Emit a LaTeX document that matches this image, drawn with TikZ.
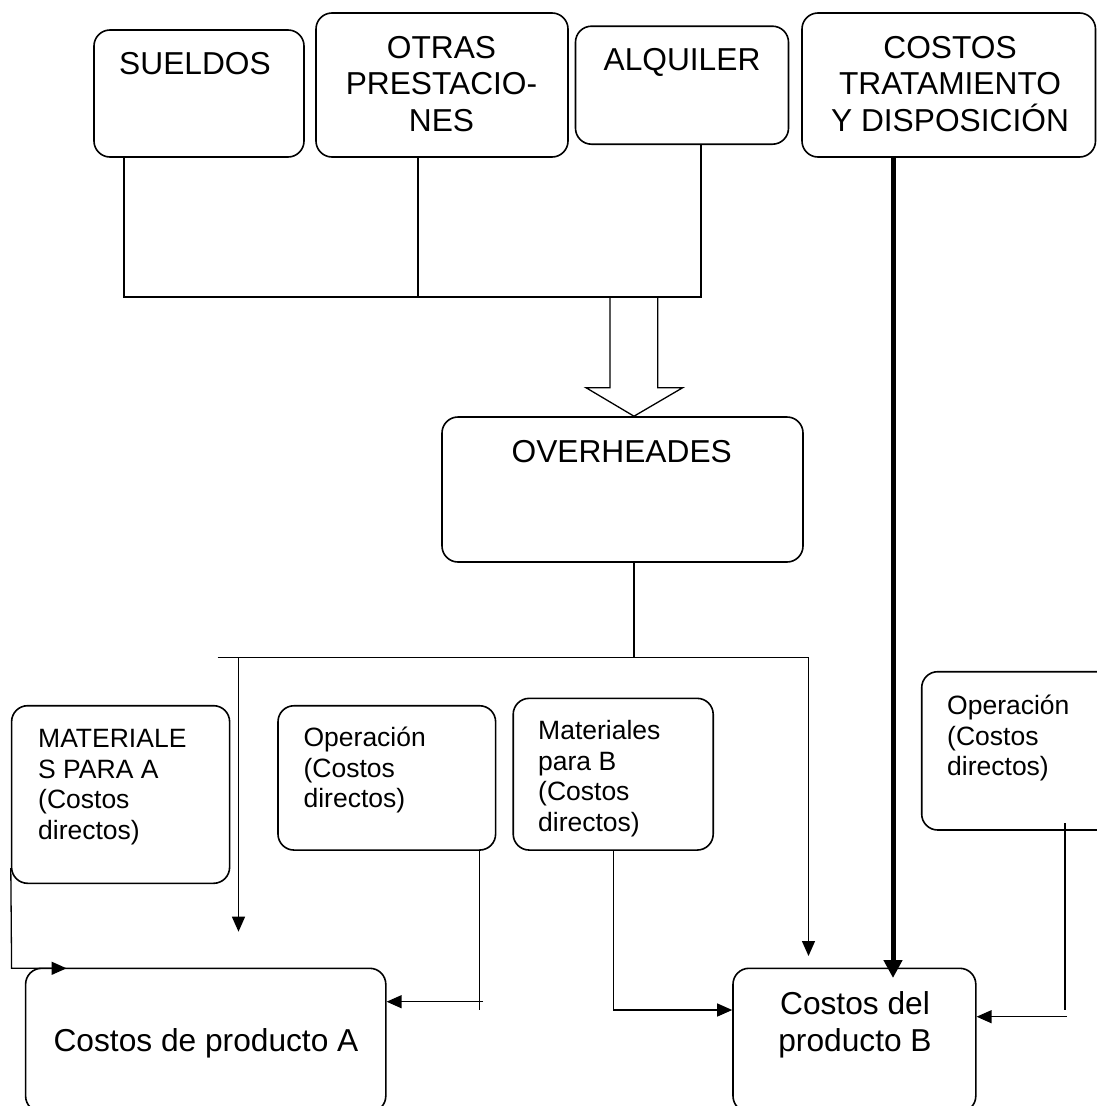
\documentclass[tikz,border=0pt]{standalone}
\usepackage{fontspec}
\setmainfont{Liberation Sans}
\usetikzlibrary{arrows.meta}
\begin{document}
\begin{tikzpicture}[x=1pt,y=-1pt,
 box/.style={draw, line width=1.6pt, rounded corners=16pt, inner sep=0pt},
 big/.style={font=\fontsize{31.7pt}{36.5pt}\selectfont, inner sep=0pt, align=center, anchor=north},
 small/.style={font=\fontsize{26.5pt}{30.5pt}\selectfont, inner sep=0pt, align=left, anchor=north west},
 conn/.style={line width=1.3pt},
 arr/.style={conn, -{Triangle[length=15pt,width=13pt]}},
]
\useasboundingbox (0,0) rectangle (1097,1106);
\clip (0,0) rectangle (1097,1106);

% boxes
\node[box, minimum width=210pt, minimum height=127pt] (sueldos) at (199,93.5) {};
\node[box, minimum width=252pt, minimum height=144pt] (otras) at (442,85) {};
\node[box, minimum width=213pt, minimum height=118pt] (alquiler) at (682,85.2) {};
\node[box, minimum width=293.5pt, minimum height=144pt] (costos) at (948.75,85) {};
\node[box, minimum width=361pt, minimum height=145pt] (overheades) at (622.5,489.5) {};
\node[box, minimum width=218pt, minimum height=177.6pt] (matA) at (120.6,794.5) {};
\node[box, minimum width=217.6pt, minimum height=144.3pt] (opA) at (386.8,777.9) {};
\node[box, minimum width=200pt, minimum height=151.7pt] (matB) at (613.2,774.2) {};
\node[box, minimum width=218.3pt, minimum height=158.3pt] (opB) at (1030.85,750.85) {};
\node[box, minimum width=360.2pt, minimum height=143.7pt] (costosA) at (205.7,1040.15) {};
\node[box, minimum width=242.8pt, minimum height=143.7pt] (costosB) at (854.4,1040.15) {};

% texts
\node[big] (sueldosT) at (195,48.5) {\strut SUELDOS};
\node[big] (otrasT) at (441.5,32.5) {\strut OTRAS\\PRESTACIO-\\NES};
\node[big] (alquilerT) at (682,45) {\strut ALQUILER};
\node[big] (costosT) at (950,32.5) {\strut COSTOS\\TRATAMIENTO\\Y DISPOSICIÓN};
\node[big] (overT) at (621.7,436.6) {\strut OVERHEADES};
\node[big] (costosAT) at (206,1026) {\strut Costos de producto A};
\node[big] (costosBT) at (855,989) {\strut Costos del\\producto B};
\node[small] (matAT) at (38,726) {\strut MATERIALE\\S PARA A\\(Costos\\directos)};
\node[small] (opAT) at (303.4,725) {\strut Operación\\(Costos\\directos)};
\node[small] (matBT) at (538,718) {\strut Materiales\\para B\\(Costos\\directos)};
\node[small] (opBT) at (947,693) {\strut Operación\\(Costos\\directos)};

% top collector
\coordinate (jA) at (124,297);
\coordinate (jB) at (418,297);
\coordinate (jC) at (701,297);
\draw[conn] (sueldos.south -| jA) -- (jA) -- (jC) -- (alquiler.south -| jC);
\draw[conn] (otras.south -| jB) -- (jB);

% hollow block arrow
\coordinate (ox) at (634,0);
\coordinate (bl) at (610,297);
\coordinate (br) at (657.7,297);
\draw[conn, line join=miter] (bl) -- (610,387.7) -- (586,387.7) -- (overheades.north -| ox)
  -- (682.7,387.7) -- (657.7,387.7) -- (br);

% overheads distribution
\coordinate (hL) at (217.7,657.7);
\coordinate (hA) at (238.5,657.7);
\coordinate (hR) at (808.5,657.7);
\draw[conn] (overheades.south -| ox) -- (ox |- hL);
\draw[conn] (hL) -- (hR);
\coordinate (endA) at (238.5,931.7);
\draw[arr] (hA) -- (endA);
\coordinate (endB) at (808.5,956);
\draw[arr] (hR) -- (endB);

% thick arrow from treatment costs
\coordinate (tk) at (893,978);
\draw[line width=5pt, -{Triangle[length=18pt,width=18pt]}] (costos.south -| tk) -- (tk);

% materials A
\coordinate (mA1) at (11.6,968.3);
\coordinate (mA2) at (66.6,968.3);
\draw[arr] ([yshift=16pt]matA.south west) -- (mA1) -- (mA2);

% operation A
\coordinate (oA1) at (479.5,1010);
\draw[conn] (opA.south -| oA1) -- (oA1);
\coordinate (oA2) at (483,1001.7);
\draw[arr] (oA2) -- (costosA.east |- oA2);

% materials B
\coordinate (mB) at (613.2,1010);
\draw[arr] (matB.south) -- (mB) -- (costosB.west |- mB);

% operation B
\coordinate (oB0) at (1065,823);
\coordinate (oB1) at (1065,1010);
\draw[conn] (oB0) -- (oB1);
\coordinate (oB2) at (1067,1016.7);
\draw[arr] (oB2) -- (costosB.east |- oB2);
\end{tikzpicture}
\end{document}
